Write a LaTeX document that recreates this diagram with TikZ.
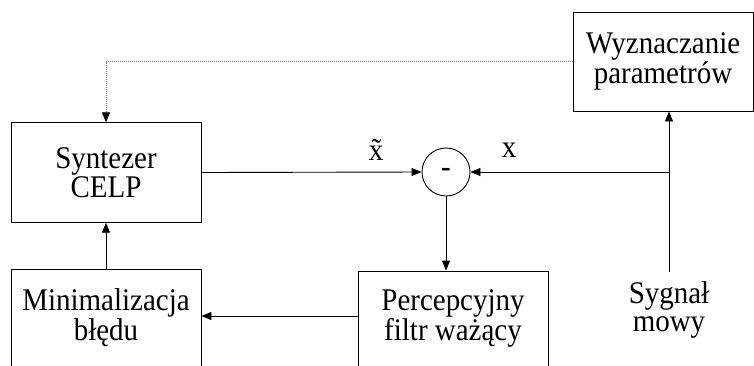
\documentclass[tikz,border=0pt]{standalone}
\usepackage{fontspec}
\setmainfont{Liberation Serif}
\newfontfamily\cfont[FakeStretch=0.92]{Liberation Serif}
\usetikzlibrary{arrows.meta}
\begin{document}
\begin{tikzpicture}[x=1pt,y=-1pt,
  line width=0.9pt,
  blk/.style={draw, rectangle, inner sep=0pt, align=center,
    font=\cfont\fontsize{31.5}{28.5}\selectfont},
  lbl/.style={inner sep=0pt, align=center, font=\cfont\fontsize{31.5}{28.5}\selectfont},
  arr/.style={-{Triangle[length=10pt,width=8pt,color=black]}},
  dots/.style={draw=gray, dash pattern=on 1pt off 1pt, line width=0.8pt}
]
\useasboundingbox (0,0) rectangle (754,365);
\clip (0,0) rectangle (754,365);

\node[blk, minimum width=190pt, minimum height=99.5pt] (syn) at (106,172.5) {Syntezer\\CELP};
\node[blk, minimum width=190pt, minimum height=97pt] (min) at (106,317.5) {Minimalizacja\\błędu};
\node[blk, minimum width=190pt, minimum height=95pt] (perc) at (453,318.5) {Percepcyjny\\filtr ważący};
\node[blk, minimum width=180pt, minimum height=99pt] (wyz) at (663,61.5) {Wyznaczanie\\parametrów};
\node[draw, circle, minimum size=48pt, inner sep=0pt, font=\fontsize{29}{28}\selectfont\bfseries] (circ) at (446,172) {-};

\node[lbl] (sig) at (669,310) {Sygnał\\mowy};
\node[lbl] (xt) at (376,150) {\~{x}};
\node[lbl] (xx) at (509,150) {x};

\coordinate (sigtop) at (669,272);
\coordinate (j) at (669,172);

\draw[dots, arr] (wyz.west) -| (syn.north);
\draw[arr] (syn.east) -- (circ.west);
\draw (sigtop) -- (j);
\draw[arr] (j) -- (wyz.south -| j);
\draw[arr] (j) -- (circ.east);
\draw[arr] (circ.south) -- (circ.south |- perc.north);
\draw[arr] ([yshift=2.5pt]perc.west) -- ([yshift=2.5pt]perc.west -| min.east);
\draw[arr] (min.north) -- (syn.south);
\end{tikzpicture}
\end{document}
